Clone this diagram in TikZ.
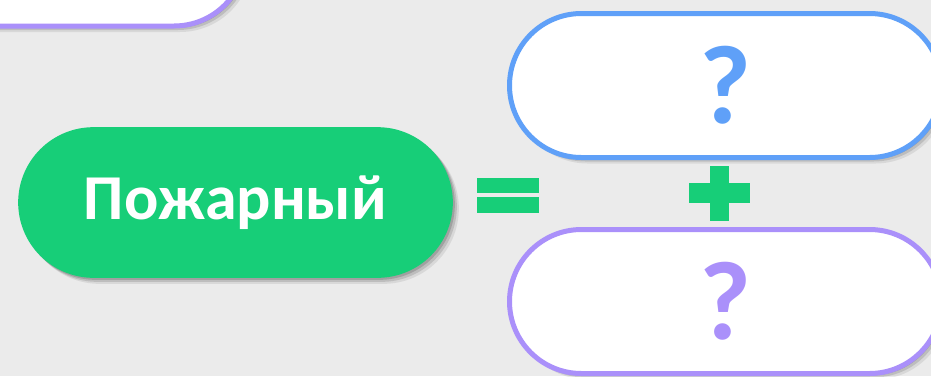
\documentclass[tikz,border=0pt]{standalone}
\usepackage{fontspec}
\setmainfont{Carlito}
\usetikzlibrary{shapes.misc,shadows}

\definecolor{bgGray}{HTML}{EBEBEB}
\definecolor{pillGreen}{HTML}{17CE78}
\definecolor{pillBlue}{HTML}{5FA0F8}
\definecolor{pillPurple}{HTML}{AA90FA}

\tikzset{
  softshadow/.style={
    drop shadow={shadow xshift=1.5pt,shadow yshift=-1.5pt,opacity=.15,fill=black},
    drop shadow={shadow xshift=3pt,shadow yshift=-3pt,opacity=.12,fill=black},
    drop shadow={shadow xshift=4.5pt,shadow yshift=-4.5pt,opacity=.08,fill=black}},
  pill/.style={rounded rectangle,minimum width=324pt,minimum height=108pt,
    line width=3.75pt,fill=white,inner sep=0pt,softshadow},
  qmark/.style={font=\fontsize{84}{84}\selectfont\bfseries}
}

\begin{document}
\begin{tikzpicture}[x=0.75pt,y=0.75pt,yscale=-1,xscale=1]
    \useasboundingbox (0,0) rectangle (931,376);
    \fill[bgGray] (0,0) rectangle (931,376);
    \clip (0,0) rectangle (931,376);

    % previous pill, cut by the top edge
    \node[pill,draw=pillPurple] (prevPill) at (30,-46) {};

    % main word
    \node[pill,fill=pillGreen,minimum width=326pt,minimum height=113pt,
      text=white,font=\fontsize{48}{48}\selectfont\bfseries] (fireman) at (235.5,202.5) {Пожарный};

    % equals sign
    \fill[pillGreen] (477,178) rectangle (539,193);
    \fill[pillGreen] (477,197) rectangle (539,213);
    % plus sign
    \fill[pillGreen] (689,183) rectangle (750,203);
    \fill[pillGreen] (710,166) rectangle (729,221);

    % the two parts
    \node[pill,draw=pillBlue,text=pillBlue,qmark] (partTop) at (725.5,85.5) {?};
    \node[pill,draw=pillPurple,text=pillPurple,qmark] (partBottom) at (725.5,301.5) {?};
\end{tikzpicture}
\end{document}
